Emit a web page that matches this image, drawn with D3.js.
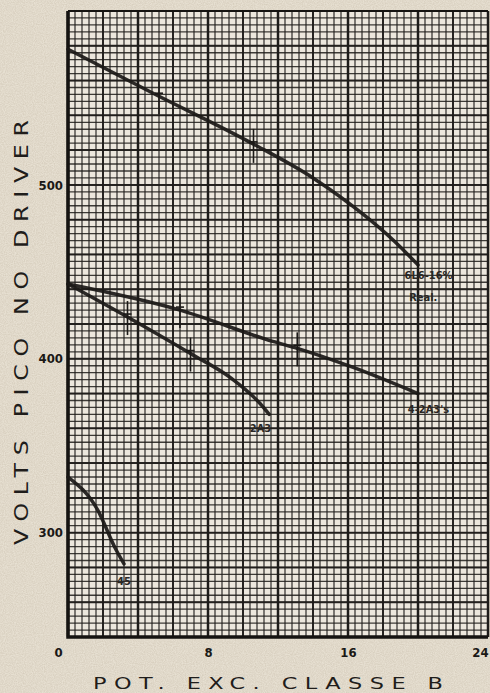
<!DOCTYPE html>
<html>
<head>
<meta charset="utf-8">
<script src="https://cdn.jsdelivr.net/npm/d3@7"></script>
<style>
    body { margin: 0; background: #e7e0d2; }
    svg { display: block; }
</style>
</head>
<body>
<script>

const xTicks = [0, 8, 16, 24]
const yTicks = [300, 400, 500]

const seriesNames = ['6L6-16%', '4-2A3\'s', '2A3', '45']

// pontos [pot., volts]
const series6L6 = [[0, 578], [5, 552], [10.5, 524], [14, 504], [17, 482], [18.5, 469], [20, 454]]
const series4x2A3 = [[0, 443], [6.4, 428], [11.7, 410], [13.1, 406], [16.3, 395], [20, 380]]
const series2A3 = [[0, 443], [3.4, 424], [7, 403], [9.3, 389], [11, 374], [11.5, 368]]
const series45 = [[0, 332], [1.7, 313], [2.7, 291], [3.2, 282]]

const markers = [[5.2, 551], [10.6, 523], [6.4, 428], [13.1, 406], [3.4, 424], [7, 403]]

const width = 490
const height = 693
const plot = {left: 68, right: 488, top: 11, bottom: 637}

const svg = d3.select('body').append('svg')
    .attr('width', width)
    .attr('height', height)

const defs = svg.append('defs')
const paper = defs.append('filter').attr('id', 'paper')
    .attr('x', 0).attr('y', 0).attr('width', '100%').attr('height', '100%')
paper.append('feTurbulence')
    .attr('type', 'fractalNoise')
    .attr('baseFrequency', 0.9)
    .attr('numOctaves', 2)
    .attr('seed', 7)
paper.append('feColorMatrix')
    .attr('type', 'matrix')
    .attr('values', '0 0 0 0 0.45  0 0 0 0 0.38  0 0 0 0 0.28  0 0 0 0.5 -0.12')

svg.append('rect')
    .attr('width', width).attr('height', height)
    .attr('fill', '#e7e0d2')
svg.append('rect')
    .attr('width', width).attr('height', height)
    .attr('filter', 'url(#paper)')

const x = d3.scaleLinear().domain([0, 24]).range([plot.left, plot.right])
const y = d3.scaleLinear().domain([240, 600]).range([plot.bottom, plot.top])

svg.append('rect')
    .attr('x', plot.left).attr('y', plot.top)
    .attr('width', plot.right - plot.left)
    .attr('height', plot.bottom - plot.top)
    .attr('fill', '#ece7dd')

const grid = svg.append('g').attr('stroke', '#1e1c1a')

function drawGrid(xs, ys, w, opacity){
    grid.append('g')
        .selectAll('line')
        .data(xs)
        .join('line')
        .attr('x1', d => x(d)).attr('x2', d => x(d))
        .attr('y1', plot.top).attr('y2', plot.bottom)
        .attr('stroke-width', w)
        .attr('stroke-opacity', opacity)
    grid.append('g')
        .selectAll('line')
        .data(ys)
        .join('line')
        .attr('y1', d => y(d)).attr('y2', d => y(d))
        .attr('x1', plot.left).attr('x2', plot.right)
        .attr('stroke-width', w)
        .attr('stroke-opacity', opacity)
}

drawGrid(d3.range(0, 24.01, 0.4), d3.range(240, 600.1, 4), 1.3, 0.85)
drawGrid(d3.range(0, 24.01, 2), d3.range(240, 600.1, 20), 2, 0.92)
drawGrid(d3.range(0, 24.01, 4), [], 2.5, 0.95)

// bordas
svg.append('path')
    .attr('d', `M${plot.left},${plot.top}V${plot.bottom}H${plot.right}`)
    .attr('fill', 'none')
    .attr('stroke', '#151311')
    .attr('stroke-width', 3.5)
svg.append('path')
    .attr('d', `M${plot.left},${plot.top}H${plot.right}`)
    .attr('stroke', '#151311')
    .attr('stroke-width', 2)

const xAxis = svg.append('g')
    .attr('transform', `translate(0,${plot.bottom})`)
    .call(d3.axisBottom(x).tickValues(xTicks).tickSize(0).tickPadding(11))
xAxis.select('.domain').remove()
xAxis.selectAll('text')
    .attr('dx', d => d === 0 ? -10 : (d === 24 ? -8 : 0))
    .style('font-family', 'Liberation Sans Narrow, DejaVu Sans Condensed, sans-serif')
    .style('font-weight', 'bold')
    .style('font-size', '13px')
    .attr('fill', '#1a1816')

const yAxis = svg.append('g')
    .attr('transform', `translate(${plot.left},0)`)
    .call(d3.axisLeft(y).tickValues(yTicks).tickSize(0).tickPadding(5))
yAxis.select('.domain').remove()
yAxis.selectAll('text')
    .style('font-family', 'Liberation Sans Narrow, DejaVu Sans Condensed, sans-serif')
    .style('font-weight', 'bold')
    .style('font-size', '13px')
    .attr('fill', '#1a1816')

const line = d3.line()
    .x(d => x(d[0]))
    .y(d => y(d[1]))
    .curve(d3.curveMonotoneX)

svg.append('g')
    .selectAll('path')
    .data([series6L6, series4x2A3, series2A3, series45])
    .join('path')
    .attr('d', line)
    .attr('fill', 'none')
    .attr('stroke', '#1b1917')
    .attr('stroke-width', 3.5)
    .attr('stroke-linecap', 'round')
    .attr('stroke-opacity', 0.92)

const ticks = svg.append('g').attr('stroke', '#1b1917').attr('stroke-width', 1.6)
ticks.selectAll('.v')
    .data(markers)
    .join('line')
    .attr('class', 'v')
    .attr('x1', d => x(d[0])).attr('x2', d => x(d[0]))
    .attr('y1', d => y(d[1]) - 16).attr('y2', d => y(d[1]) + 18)
ticks.selectAll('.h')
    .data(markers)
    .join('line')
    .attr('class', 'h')
    .attr('x1', d => x(d[0]) - 4).attr('x2', d => x(d[0]) + 4)
    .attr('y1', d => y(d[1]) - 3).attr('y2', d => y(d[1]) - 3)

// rótulos das curvas
const labelPos = [[20.6, 446], [20.6, 369], [11, 358], [3.2, 270]]
const labels = svg.append('g')
    .style('font-family', 'DejaVu Sans Condensed, sans-serif')
    .style('font-weight', 'bold')
    .style('font-size', '11px')
    .attr('fill', '#2a2724')
    .attr('text-anchor', 'middle')

labels.selectAll('text')
    .data(seriesNames)
    .join('text')
    .attr('x', (d, i) => x(labelPos[i][0]))
    .attr('y', (d, i) => y(labelPos[i][1]))
    .text(d => d)
labels.append('text')
    .attr('x', x(20.3))
    .attr('y', y(446) + 22)
    .text('Real.')

svg.append('text')
    .attr('transform', `translate(28,${(120 + 545) / 2}) rotate(-90) scale(1.25,1)`)
    .attr('text-anchor', 'middle')
    .attr('textLength', 425 / 1.25)
    .attr('lengthAdjust', 'spacing')
    .style('font-family', 'DejaVu Sans, sans-serif')
    .style('font-size', '19px')
    .attr('fill', '#1f1d1b')
    .text('VOLTS PICO NO DRIVER')

svg.append('text')
    .attr('transform', `translate(${(93 + 443) / 2},689) scale(1.4,1)`)
    .attr('text-anchor', 'middle')
    .attr('textLength', 350 / 1.4)
    .attr('lengthAdjust', 'spacing')
    .style('font-family', 'DejaVu Sans, sans-serif')
    .style('font-size', '16px')
    .attr('fill', '#1f1d1b')
    .text('POT. EXC. CLASSE B')

</script>
</body>
</html>
